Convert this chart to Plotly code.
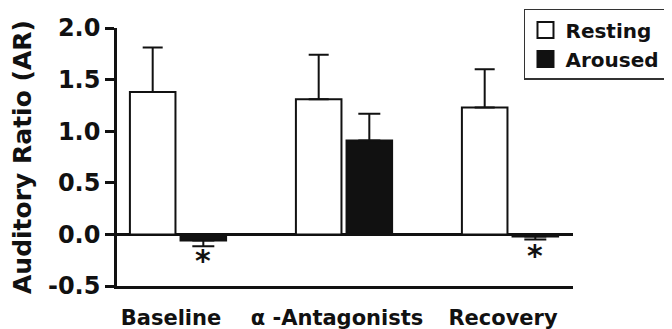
import plotly.graph_objects as go

categories = ["Baseline", "α -Antagonists", "Recovery"]
resting_values = [1.38, 1.31, 1.23]
resting_errors = [0.43, 0.43, 0.37]
aroused_values = [-0.06, 0.91, -0.02]
aroused_errors = [0.055, 0.26, 0.03]
significant = [True, False, True]
asterisk_y = [-0.25, None, -0.20]
y_tickvals = [-0.5, 0.0, 0.5, 1.0, 1.5, 2.0]
y_ticktext = ["-0.5", "0.0", "0.5", "1.0", "1.5", "2.0"]

FONT = "DejaVu Sans, Arial, sans-serif"
INK = "#111111"

def up_err(vals, errs):
    return [e if v >= 0 else 0 for v, e in zip(vals, errs)]

def down_err(vals, errs):
    return [e if v < 0 else 0 for v, e in zip(vals, errs)]

fig = go.Figure()
fig.add_trace(go.Bar(
    x=categories, y=resting_values, name="Resting", showlegend=False,
    marker=dict(color="white", line=dict(color=INK, width=2)),
    error_y=dict(type="data", symmetric=False,
                 array=up_err(resting_values, resting_errors),
                 arrayminus=down_err(resting_values, resting_errors),
                 color=INK, thickness=2, width=10),
))
fig.add_trace(go.Bar(
    x=categories, y=aroused_values, name="Aroused", showlegend=False,
    marker=dict(color=INK, line=dict(color=INK, width=2)),
    error_y=dict(type="data", symmetric=False,
                 array=up_err(aroused_values, aroused_errors),
                 arrayminus=down_err(aroused_values, aroused_errors),
                 color=INK, thickness=2, width=11),
))
# legend entries
for nm, col in [("Resting", "white"), ("Aroused", INK)]:
    fig.add_trace(go.Scatter(
        x=[None], y=[None], mode="markers", name=nm,
        marker=dict(symbol="square", size=16, color=col, line=dict(color=INK, width=2)),
    ))

for cat, sig, ay in zip(categories, significant, asterisk_y):
    if sig:
        fig.add_annotation(x=cat, y=ay, xref="x", yref="y", text="*", showarrow=False,
                           xshift=25, font=dict(family=FONT, size=30, color=INK, weight="bold"))

# the page body adds an 8px offset, so the figure is sized 8px smaller
fig.update_layout(
    width=664, height=321, autosize=False,
    margin=dict(l=109, r=99, t=20, b=43, autoexpand=False),
    paper_bgcolor="white", plot_bgcolor="white",
    barmode="group", bargap=0.39, bargroupgap=0.1,
    font=dict(family=FONT, color=INK, size=20, weight="bold"),
    showlegend=True,
    legend=dict(xref="container", yref="container", x=0.7771, y=0.997,
                xanchor="left", yanchor="top",
                bordercolor="#333333", borderwidth=1.5, bgcolor="white",
                font=dict(family=FONT, size=20, color=INK, weight="bold"),
                itemsizing="trace", tracegroupgap=0),
)
fig.update_xaxes(
    range=[-0.3675, 2.3795], showline=True, linecolor=INK, linewidth=2.5,
    ticks="", showgrid=False, zeroline=False, automargin=False,
    tickfont=dict(family=FONT, size=21, color=INK, weight="bold"),
    ticklabelstandoff=11, ticklabelshift=-7,
)
fig.update_yaxes(
    range=[-0.5, 2.0], showline=True, linecolor=INK, linewidth=2.5,
    ticks="outside", ticklen=9, tickwidth=2.5, tickcolor=INK,
    tickvals=y_tickvals, ticktext=y_ticktext, automargin=False,
    tickfont=dict(family=FONT, size=24, color=INK, weight="bold"),
    showgrid=False, zeroline=True, zerolinecolor=INK, zerolinewidth=2.5,
    title=dict(text="Auditory Ratio (AR)", standoff=18,
               font=dict(family=FONT, size=25, color=INK, weight="bold")),
)

fig.write_html("out.html")
